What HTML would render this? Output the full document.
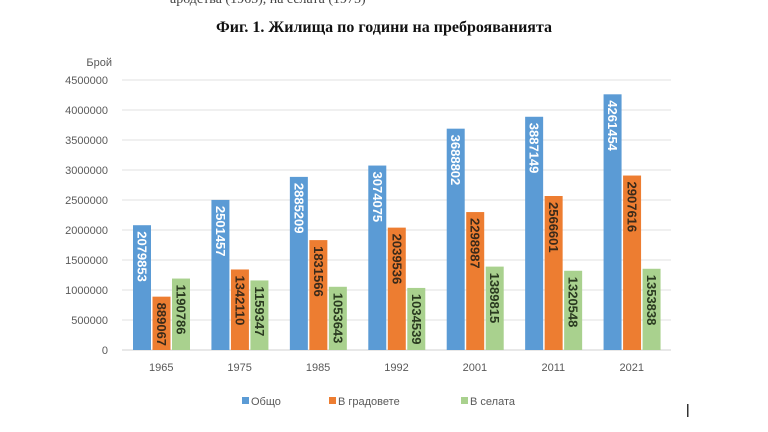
<!DOCTYPE html>
<html><head><meta charset="utf-8"><style>
body{margin:0;background:#fff;width:768px;height:432px;overflow:hidden;font-family:"Liberation Sans","DejaVu Sans",sans-serif}
svg{display:block}
</style></head><body>
<svg id="c" width="768" height="432" xmlns="http://www.w3.org/2000/svg">
<text x="170" y="3" font-family="Liberation Serif,serif" font-size="14" fill="#444">ародства (1965), на селата (1975)</text>
<text x="384" y="32" text-anchor="middle" font-family="Liberation Serif,serif" font-weight="bold" font-size="16" fill="#111">Фиг. 1. Жилища по години на преброяванията</text>
<text x="112" y="66" text-anchor="end" font-size="11" fill="#595959">Брой</text>
<g id="grid"></g><g id="bars"></g><g id="xl"></g>
<g>
<rect x="242" y="397" width="7" height="7" fill="#5b9bd5"/>
<text x="251" y="405" font-size="11" fill="#595959">Общо</text>
<rect x="329" y="397" width="7" height="7" fill="#ed7d31"/>
<text x="338" y="405" font-size="11" fill="#595959">В градовете</text>
<rect x="461" y="397" width="7" height="7" fill="#a9d18e"/>
<text x="470" y="405" font-size="11" fill="#595959">В селата</text>
</g>
<rect x="687" y="404" width="1.5" height="13" fill="#333"/>
</svg>
<script>
const categories=["1965","1975","1985","1992","2001","2011","2021"];
const total=[2079853,2501457,2885209,3074075,3688802,3887149,4261454];
const cities=[889067,1342110,1831566,2039536,2298987,2566601,2907616];
const villages=[1190786,1159347,1053643,1034539,1389815,1320548,1353838];
const ticks=[0,500000,1000000,1500000,2000000,2500000,3000000,3500000,4000000,4500000];
const NS="http://www.w3.org/2000/svg";
const x0=122,x1=671,y0=350,yTop=80,maxV=4500000;
const y=v=>y0-(v/maxV)*(y0-yTop);
const step=(x1-x0)/categories.length;
function mk(t,a,p){const e=document.createElementNS(NS,t);for(const k in a)e.setAttribute(k,a[k]);p.appendChild(e);return e;}
const grid=document.getElementById('grid');
ticks.forEach(t=>{
 const l=mk('line',{x1:x0,x2:x1,y1:y(t),y2:y(t),stroke:t===0?'#d0d0d0':'#e0e0e0','stroke-width':1},grid);
 
 
 const tx=mk('text',{x:108,y:y(t)+4,'text-anchor':'end','font-size':11,fill:'#595959'},grid);
 tx.textContent=t;
 
 
});
const series=[[total,'#5b9bd5','#fff','total'],[cities,'#ed7d31','#3a2a1a','cities'],[villages,'#a9d18e','#2a3a20','villages']];
const bars=document.getElementById('bars'),xl=document.getElementById('xl');
categories.forEach((c,i)=>{
 const gx=x0+i*step;
 series.forEach((s,j)=>{
  const v=s[0][i],bx=gx+11+j*19.5,w=18;
  const r=mk('rect',{x:bx,y:y(v),width:w,height:y0-y(v),fill:s[1]},bars);
  
  
  const cx=bx+w/2-4.5,ty=y(v)+6;
  const t=mk('text',{x:cx,y:ty,transform:`rotate(90 ${cx} ${ty})`,'font-size':13,'font-weight':'bold',fill:s[2]},bars);
  t.textContent=v;
  
  
 });
 const t=mk('text',{x:gx+step/2,y:371,'text-anchor':'middle','font-size':11,fill:'#595959'},xl);
 t.textContent=c;
 
 
});
</script>
</body></html>
